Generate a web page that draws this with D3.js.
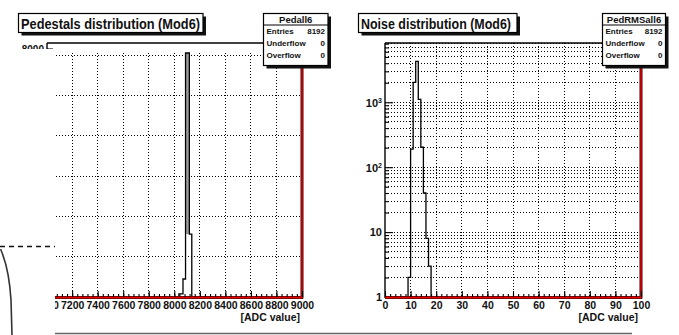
<!DOCTYPE html>
<html>
<head>
<meta charset="utf-8">
<script src="https://cdn.jsdelivr.net/npm/d3@7"></script>
<style>
  body { margin: 0; background: #fff; }
  svg { display: block; }
  text { font-family: 'Liberation Sans Narrow', 'Liberation Sans', Arial, sans-serif; fill: #111; }
</style>
</head>
<body>
<svg id="chart" width="679" height="335"></svg>
<script>
// ---- data ----
const pedEdges = [8036, 8068, 8088, 8118, 8137];
const pedCounts = [100, 580, 7870, 2030];
const pedXTicks = [7000, 7200, 7400, 7600, 7800, 8000, 8200, 8400, 8600, 8800, 9000];
const pedYGrid = [1300, 2600, 3900, 5200, 6500, 7800];

const noiseEdges = [9, 10, 11, 12, 13, 14, 15, 16, 17, 18];
const noiseCounts = [2, 190, 2030, 4270, 1110, 203, 40, 8, 3];
const noiseXTicks = [0, 10, 20, 30, 40, 50, 60, 70, 80, 90, 100];
const noiseYTicks = [1, 10, 100, 1000];

const statRows = ['Entries', 'Underflow', 'Overflow'];
const pedStats = ['8192', '0', '0'];
const noiseStats = ['8192', '0', '0'];

const svg = d3.select('#chart');
const frameTop = 43, frameBottom = 297;

// ---- scales ----
const xPed = d3.scaleLinear().domain([7000, 9000]).range([46.6, 302]);
const yPed = d3.scaleLinear().domain([0, 8192]).range([frameBottom, frameTop]);
const xNoise = d3.scaleLinear().domain([0, 100]).range([385, 641]);
const yNoise = d3.scaleLog().domain([1, 8192]).range([frameBottom, frameTop]);

function dotted(sel) {
  return sel.attr('stroke', '#000').attr('stroke-width', 1).attr('stroke-dasharray', '1,2')
    .attr('shape-rendering', 'crispEdges');
}

function stepPoints(edges, counts, base) {
  const pts = [[edges[0], base]];
  counts.forEach((c, i) => { pts.push([edges[i], c]); pts.push([edges[i + 1], c]); });
  pts.push([edges[edges.length - 1], base]);
  return pts;
}

function bottomAxis(x, majors, minorStep, y0) {
  const minors = d3.range(majors[0], majors[majors.length - 1] + 0.001, minorStep);
  svg.append('g').attr('transform', `translate(0,${y0})`)
    .call(d3.axisBottom(x).tickValues(minors).tickSize(-3).tickFormat(''))
    .call(g => g.select('.domain').remove());
  const ax = svg.append('g').attr('transform', `translate(0,${y0})`)
    .call(d3.axisBottom(x).tickValues(majors).tickSize(-6).tickFormat(d3.format('d')))
    .call(g => g.select('.domain').remove());
  ax.selectAll('text').attr('y', 12).attr('dy', null)
    .style('font-size', '10.5px').style('font-weight', 'bold').attr('fill', '#111');
  svg.selectAll('.tick line').attr('stroke', '#000').attr('stroke-width', 1.1);
}

function redFrame(x0, x1, yTopRed) {
  // bottom and right edges: red with dark rim
  svg.append('line').attr('x1', x0).attr('x2', x1 + 1).attr('y1', frameBottom + 0.5).attr('y2', frameBottom + 0.5)
    .attr('stroke', '#300').attr('stroke-width', 3);
  svg.append('line').attr('x1', x1).attr('x2', x1).attr('y1', yTopRed).attr('y2', frameBottom + 1.5)
    .attr('stroke', '#300').attr('stroke-width', 3);
  svg.append('line').attr('x1', x0).attr('x2', x1).attr('y1', frameBottom + 0.5).attr('y2', frameBottom + 0.5)
    .attr('stroke', '#e00000').attr('stroke-width', 1.8);
  svg.append('line').attr('x1', x1).attr('x2', x1).attr('y1', yTopRed).attr('y2', frameBottom + 1)
    .attr('stroke', '#e00000').attr('stroke-width', 1.6);
}

function titleBox(x, y, w, h, label, textLen) {
  svg.append('rect').attr('x', x + 3).attr('y', y + 3).attr('width', w).attr('height', h).attr('fill', '#111');
  svg.append('rect').attr('x', x).attr('y', y).attr('width', w).attr('height', h)
    .attr('fill', '#fff').attr('stroke', '#000').attr('stroke-width', 1.2);
  svg.append('text').attr('x', x + 2.5).attr('y', y + 15.5).text(label)
    .attr('textLength', textLen).attr('lengthAdjust', 'spacingAndGlyphs')
    .style('font-size', '15px').style('font-weight', 'bold');
}

function statBox(x, y, w, h, name, values) {
  svg.append('rect').attr('x', x + 3).attr('y', y + 3).attr('width', w).attr('height', h).attr('fill', '#111');
  svg.append('rect').attr('x', x).attr('y', y).attr('width', w).attr('height', h)
    .attr('fill', '#fff').attr('stroke', '#000').attr('stroke-width', 1.2);
  svg.append('line').attr('x1', x).attr('x2', x + w).attr('y1', y + 11.5).attr('y2', y + 11.5)
    .attr('stroke', '#000').attr('stroke-width', 1);
  svg.append('text').attr('x', x + w / 2).attr('y', y + 9.5).attr('text-anchor', 'middle').text(name)
    .style('font-size', '9.5px').style('font-weight', 'bold');
  statRows.forEach((r, i) => {
    const yy = y + 20 + i * 12;
    svg.append('text').attr('x', x + 3).attr('y', yy).text(r)
      .style('font-size', '8px').style('font-weight', 'bold');
    svg.append('text').attr('x', x + w - 3).attr('y', yy).attr('text-anchor', 'end').text(values[i])
      .style('font-size', '8px').style('font-weight', 'bold');
  });
}

// ---------------- left: pedestals ----------------
svg.append('g').selectAll('line').data(pedXTicks.slice(1, -1)).join('line')
  .attr('x1', d => xPed(d)).attr('x2', d => xPed(d)).attr('y1', frameTop + 10).attr('y2', frameBottom)
  .call(dotted);
svg.append('g').selectAll('line').data(pedYGrid).join('line')
  .attr('x1', xPed(7000)).attr('x2', xPed(9000)).attr('y1', d => yPed(d)).attr('y2', d => yPed(d))
  .call(dotted);

// peak bin looks grey between its two edges
const pk = pedCounts.indexOf(d3.max(pedCounts));
const pkFloor = d3.max([pedCounts[pk - 1] || 0, pedCounts[pk + 1] || 0]);
svg.append('rect').attr('x', xPed(pedEdges[pk])).attr('width', xPed(pedEdges[pk + 1]) - xPed(pedEdges[pk]))
  .attr('y', yPed(pedCounts[pk])).attr('height', yPed(pkFloor) - yPed(pedCounts[pk])).attr('fill', '#9a9a9a');

svg.append('path').datum(stepPoints(pedEdges, pedCounts, 0))
  .attr('fill', 'none').attr('stroke', '#000').attr('stroke-width', 1.3)
  .attr('d', d3.line().x(d => xPed(d[0])).y(d => yPed(d[1])));

// top frame + left corner
svg.append('line').attr('x1', 47).attr('x2', xPed(9000)).attr('y1', frameTop).attr('y2', frameTop)
  .attr('stroke', '#000').attr('stroke-width', 1.4);
svg.append('line').attr('x1', 47).attr('x2', 47).attr('y1', frameTop).attr('y2', frameBottom)
  .attr('stroke', '#000').attr('stroke-width', 1.4);
svg.append('line').attr('x1', 47).attr('x2', 53).attr('y1', yPed(8000)).attr('y2', yPed(8000))
  .attr('stroke', '#000').attr('stroke-width', 1);
svg.append('text').attr('x', 44).attr('y', yPed(8000) + 4).attr('text-anchor', 'end').text('8000')
  .style('font-size', '10px').style('font-weight', 'bold');

redFrame(xPed(7000), xPed(9000), frameTop);
bottomAxis(xPed, pedXTicks, 40, frameBottom);
svg.append('text').attr('x', 300).attr('y', 321).attr('text-anchor', 'end').text('[ADC value]')
  .style('font-size', '10.5px').style('font-weight', 'bold');

// ---------------- right: noise (log y) ----------------
const logTicks = [];
[1, 10, 100, 1000].forEach(dec => d3.range(1, 10).forEach(m => { if (m * dec <= 8192) logTicks.push(m * dec); }));

svg.append('g').selectAll('line').data(noiseXTicks.slice(1, -1)).join('line')
  .attr('x1', d => xNoise(d)).attr('x2', d => xNoise(d)).attr('y1', frameTop).attr('y2', frameBottom)
  .call(dotted);
svg.append('g').selectAll('line').data(logTicks.slice(1)).join('line')
  .attr('x1', xNoise(0)).attr('x2', xNoise(100)).attr('y1', d => yNoise(d)).attr('y2', d => yNoise(d))
  .call(dotted);

svg.append('path').datum(stepPoints(noiseEdges, noiseCounts, 1))
  .attr('fill', 'none').attr('stroke', '#000').attr('stroke-width', 1.3)
  .attr('d', d3.line().x(d => xNoise(d[0])).y(d => yNoise(d[1])));

svg.append('line').attr('x1', xNoise(0)).attr('x2', xNoise(100)).attr('y1', frameTop).attr('y2', frameTop)
  .attr('stroke', '#000').attr('stroke-width', 1.4);
svg.append('line').attr('x1', xNoise(0)).attr('x2', xNoise(0)).attr('y1', frameTop).attr('y2', frameBottom + 1)
  .attr('stroke', '#000').attr('stroke-width', 1.4);

// y axis ticks (inward) and labels
svg.append('g').attr('transform', `translate(${xNoise(0)},0)`)
  .call(d3.axisLeft(yNoise).tickValues(logTicks.filter(v => noiseYTicks.indexOf(v) < 0)).tickSize(-4).tickFormat(''))
  .call(g => g.select('.domain').remove());
const yAx = svg.append('g').attr('transform', `translate(${xNoise(0)},0)`)
  .call(d3.axisLeft(yNoise).tickValues(noiseYTicks).tickSize(-8).tickFormat(''))
  .call(g => g.select('.domain').remove());
yAx.selectAll('.tick text').each(function (d) {
  const t = d3.select(this).attr('x', -3).attr('dy', '0.35em')
    .style('font-size', '11px').style('font-weight', 'bold').attr('fill', '#111');
  if (d < 100) { t.text(d); }
  else {
    t.text('10');
    t.append('tspan').attr('dy', '-0.45em').style('font-size', '7px').text(Math.round(Math.log10(d)));
  }
});

redFrame(xNoise(0), xNoise(100), frameTop);
bottomAxis(xNoise, noiseXTicks, 2, frameBottom);
svg.append('text').attr('x', 638).attr('y', 321).attr('text-anchor', 'end').text('[ADC value]')
  .style('font-size', '10.5px').style('font-weight', 'bold');

// ---------------- boxes ----------------
titleBox(18.5, 13.5, 184.5, 19, 'Pedestals distribution (Mod6)', 179);
titleBox(358.5, 13.5, 158.5, 19, 'Noise distribution (Mod6)', 150);
statBox(263.5, 13.5, 64.5, 52, 'Pedall6', pedStats);
statBox(602.5, 13.5, 63, 52, 'PedRMSall6', noiseStats);

// ---------------- page overlay on the left ----------------
svg.append('rect').attr('x', 0).attr('y', 49).attr('width', 55).attr('height', 290).attr('fill', '#fff');
svg.append('line').attr('x1', 0).attr('x2', 55).attr('y1', 246.5).attr('y2', 246.5)
  .attr('stroke', '#111').attr('stroke-width', 1.6).attr('stroke-dasharray', '5,4');
svg.append('path').attr('d', 'M0.5,249 Q9,268 11,300 L12,335')
  .attr('fill', 'none').attr('stroke', '#333').attr('stroke-width', 1.6);
svg.append('line').attr('x1', 55).attr('x2', 632).attr('y1', 333.5).attr('y2', 333.5)
  .attr('stroke', '#666').attr('stroke-width', 1.6);
</script>
</body>
</html>
